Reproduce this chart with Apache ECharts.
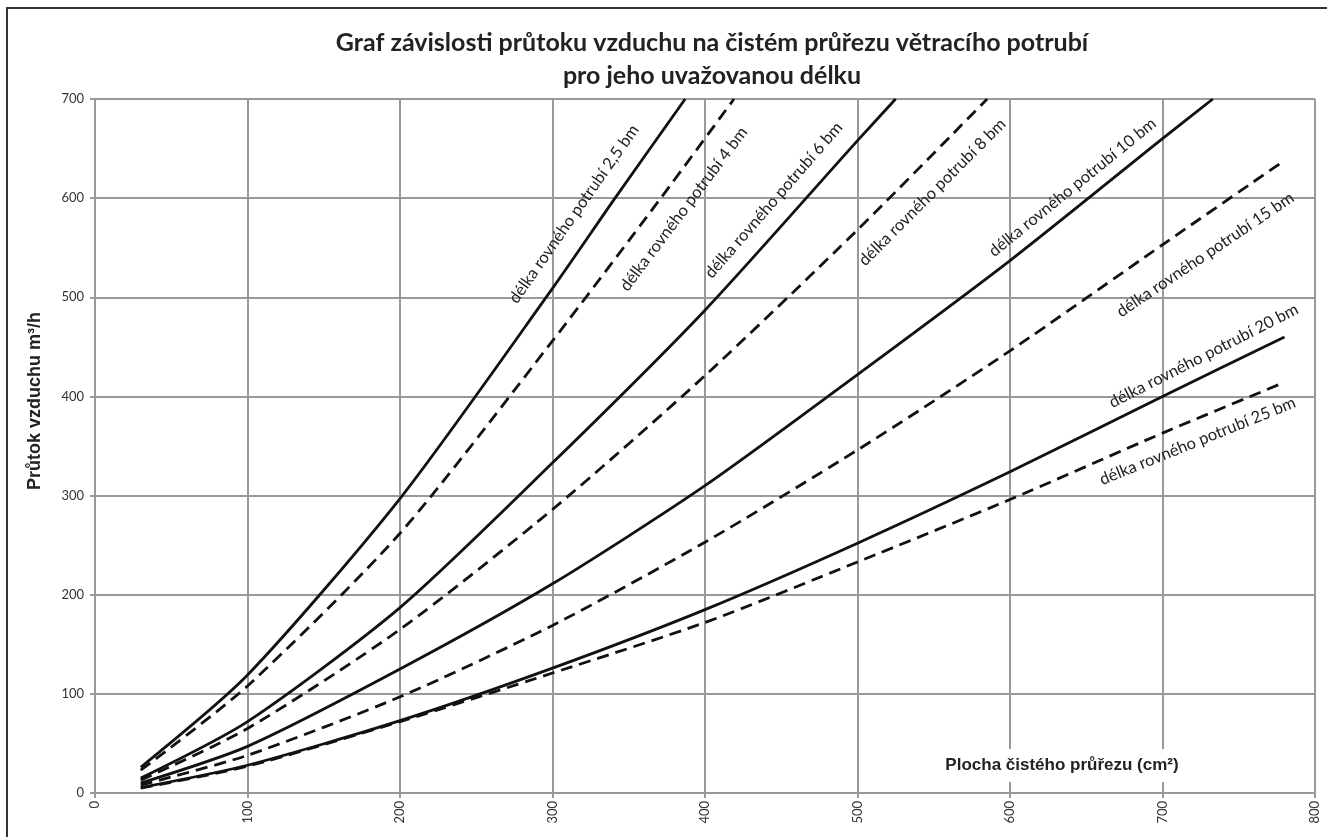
<!DOCTYPE html>
<html>
<head>
<meta charset="utf-8">
<script src="https://cdn.jsdelivr.net/npm/echarts@6/dist/echarts.min.js"></script>
<style>
html,body{margin:0;padding:0;background:#fff;}
#chart{width:1327px;height:837px;}
</style>
</head>
<body>
<div id="chart"></div>
<script>
// ---- Data ----
const titleLines = ['Graf závislosti průtoku vzduchu na čistém průřezu větracího potrubí', 'pro jeho uvažovanou délku'];
const xAxisName = 'Plocha čistého průřezu (cm²)';
const yAxisName = 'Průtok vzduchu m³/h';
const xTicks = [0, 100, 200, 300, 400, 500, 600, 700, 800];
const yTicks = [0, 100, 200, 300, 400, 500, 600, 700];

const lengths = ['2,5', '4', '6', '8', '10', '15', '20', '25'];
const dashedFlags = [false, true, false, true, false, true, false, true];

const area_2_5 = [30, 100, 200, 300, 341, 387];
const flow_2_5 = [26, 119, 297, 509, 600, 700];
const area_4 = [30, 100, 200, 300, 371, 419];
const flow_4 = [23, 108, 262, 456, 600, 700];
const area_6 = [30, 100, 200, 300, 400, 500, 525];
const flow_6 = [15, 72, 187, 333, 487, 658, 700];
const area_8 = [30, 100, 200, 300, 400, 500, 585];
const flow_8 = [13, 65, 165, 286, 421, 568, 700];
const area_10 = [30, 100, 200, 300, 400, 500, 600, 700, 733];
const flow_10 = [10, 47, 125, 211, 310, 422, 537, 660, 700];
const area_15 = [30, 100, 200, 300, 400, 500, 600, 700, 780];
const flow_15 = [8, 38, 97, 169, 253, 346, 446, 553, 638];
const area_20 = [30, 100, 200, 300, 400, 500, 600, 700, 780];
const flow_20 = [5.5, 28, 73, 126, 185, 252, 324, 400, 460];
const area_25 = [30, 100, 200, 300, 400, 500, 600, 700, 778];
const flow_25 = [5, 27, 72, 121, 172, 233, 296, 363, 413];

const areas = [area_2_5, area_4, area_6, area_8, area_10, area_15, area_20, area_25];
const flows = [flow_2_5, flow_4, flow_6, flow_8, flow_10, flow_15, flow_20, flow_25];

// label anchor positions (data coords) and rotation (deg)
const labelX = [314, 386, 445, 549, 641, 728, 727, 723];
const labelY = [584, 589, 598, 606, 611, 543, 441, 355];
const labelRot = [55, 53, 49, 45, 39, 34, 27, 22];

// ---- Chart ----
const chart = echarts.init(document.getElementById('chart'), null, {renderer: 'canvas'});

const series = lengths.map((len, i) => ({
  name: 'délka rovného potrubí ' + len + ' bm',
  type: 'line',
  data: areas[i].map((a, j) => [a, flows[i][j]]),
  smooth: 0.25,
  showSymbol: false,
  symbol: 'none',
  clip: false,
  lineStyle: {color: '#111', width: 2.8, type: dashedFlags[i] ? [12, 7] : 'solid', cap: 'butt'},
  markPoint: {
    symbol: 'circle',
    symbolSize: 0,
    silent: true,
    animation: false,
    label: {
      show: true,
      position: 'inside',
      formatter: 'délka rovného potrubí ' + len + ' bm',
      rotate: labelRot[i],
      fontFamily: 'Lato',
      fontSize: 16.5,
      color: '#222'
    },
    data: [{coord: [labelX[i], labelY[i]]}]
  }
}));

const option = {
  animation: false,
  backgroundColor: '#fff',
  title: [
    {
      text: titleLines.join('\n'),
      left: 707,
      top: 21,
      textAlign: 'center',
      textStyle: {fontFamily: 'Lato', fontWeight: 'bold', fontSize: 25, lineHeight: 33, color: '#222'}
    },
    {
      text: xAxisName,
      left: 1056,
      top: 749,
      textAlign: 'center',
      padding: [8, 6, 8, 6],
      backgroundColor: '#fff',
      textStyle: {fontFamily: 'Liberation Sans', fontWeight: 'bold', fontSize: 17, color: '#222'}
    }
  ],
  grid: {left: 95, right: 12, top: 99, bottom: 44, containLabel: false},
  xAxis: {
    type: 'value',
    min: xTicks[0],
    max: xTicks[xTicks.length - 1],
    interval: 100,
    axisLine: {show: true, lineStyle: {color: '#999', width: 2}},
    axisTick: {show: true, length: 5, lineStyle: {color: '#999', width: 2}},
    axisLabel: {rotate: 90, margin: 8, fontFamily: 'Lato', fontSize: 13, color: '#333'},
    splitLine: {show: true, lineStyle: {color: '#999', width: 2}}
  },
  yAxis: {
    type: 'value',
    min: yTicks[0],
    max: yTicks[yTicks.length - 1],
    interval: 100,
    axisLine: {show: true, lineStyle: {color: '#999', width: 2}},
    axisTick: {show: true, length: 5, lineStyle: {color: '#999', width: 2}},
    axisLabel: {margin: 11, fontFamily: 'Lato', fontSize: 13, color: '#333'},
    splitLine: {show: true, lineStyle: {color: '#999', width: 2}}
  },
  graphic: [
    {
      type: 'rect',
      shape: {x: 7, y: 8, width: 1400, height: 900},
      style: {fill: 'none', stroke: '#333', lineWidth: 2},
      silent: true,
      z: 100
    },
    {
      type: 'text',
      x: 35,
      y: 401,
      rotation: Math.PI / 2,
      style: {
        text: yAxisName,
        fontFamily: 'Liberation Sans',
        fontWeight: 'bold',
        fontSize: 18,
        fill: '#222',
        textAlign: 'center',
        textVerticalAlign: 'middle'
      }
    }
  ],
  series: series
};

chart.setOption(option);
</script>
</body>
</html>
